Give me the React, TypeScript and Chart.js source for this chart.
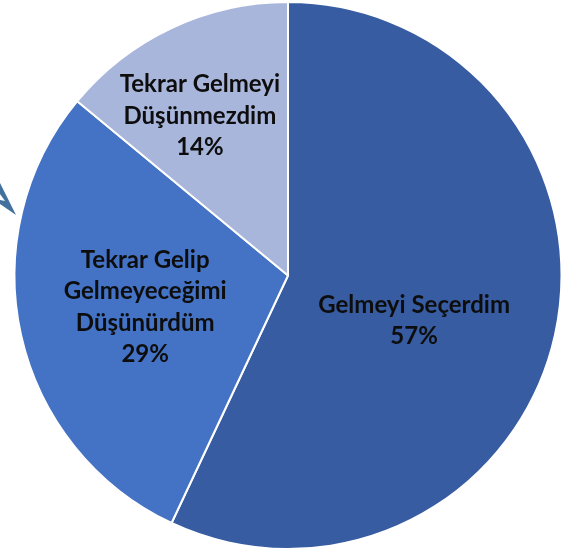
import React, { useEffect, useRef } from "react";
import { Chart, registerables } from "chart.js";

Chart.register(...registerables);

const categories: string[][] = [
  ["Gelmeyi Seçerdim"],
  ["Tekrar Gelip", "Gelmeyeceğimi", "Düşünürdüm"],
  ["Tekrar Gelmeyi", "Düşünmezdim"],
];
const values: number[] = [57, 29, 14];
const percentLabels: string[] = ["57%", "29%", "14%"];
const colors: string[] = ["#375ca1", "#4472c4", "#a9b6dc"];

// label placement: radial fraction and angular offset (radians) per slice
const labelRadius = [0.49, 0.535, 0.666];
const labelAngleOffset = [0.125, 0.0, -0.065];

const labelPlugin = {
  id: "sliceLabels",
  afterDatasetsDraw(chart: any) {
    const ctx = chart.ctx;
    const meta = chart.getDatasetMeta(0);
    ctx.save();
    ctx.font = "bold 24px Lato";
    ctx.fillStyle = "#0d0d0d";
    ctx.textAlign = "center";
    ctx.textBaseline = "middle";
    meta.data.forEach((arc: any, i: number) => {
      const p = arc.getProps(["x", "y", "startAngle", "endAngle", "outerRadius"], true);
      const mid = (p.startAngle + p.endAngle) / 2 + labelAngleOffset[i];
      const r = p.outerRadius * labelRadius[i];
      const cx = p.x + Math.cos(mid) * r;
      const cy = p.y + Math.sin(mid) * r;
      const lines = [...categories[i], percentLabels[i]];
      const lh = 31.5;
      const top = cy - ((lines.length - 1) * lh) / 2;
      lines.forEach((t, k) => ctx.fillText(t, cx, top + k * lh));
    });
    ctx.restore();
  },
};

const arrowPlugin = {
  id: "arrowDecor",
  beforeDraw(chart: any) {
    const ctx = chart.ctx;
    ctx.save();
    ctx.fillStyle = "#41719c";
    ctx.beginPath();
    ctx.moveTo(0, 183);
    ctx.lineTo(16, 215);
    ctx.lineTo(0, 204);
    ctx.closePath();
    ctx.fill();
    ctx.fillStyle = "#ffffff";
    ctx.beginPath();
    ctx.moveTo(0, 194);
    ctx.lineTo(5, 201);
    ctx.lineTo(0, 200);
    ctx.closePath();
    ctx.fill();
    ctx.restore();
  },
};

export default function App() {
  const ref = useRef<HTMLCanvasElement | null>(null);
  useEffect(() => {
    if (!ref.current) return;
    const chart = new Chart(ref.current, {
      type: "pie",
      data: {
        labels: categories.map((c) => c.join(" ")),
        datasets: [
          {
            data: values,
            backgroundColor: colors,
            borderColor: "#ffffff",
            borderWidth: 2,
          },
        ],
      },
      options: {
        responsive: false,
        animation: false,
        layout: { padding: { left: 9, right: 0, top: 1, bottom: 3 } },
        plugins: {
          legend: { display: false },
          tooltip: { enabled: false },
        },
      },
      plugins: [labelPlugin, arrowPlugin],
    });
    return () => chart.destroy();
  }, []);
  return (
    <div style={{ position: "fixed", left: 0, top: 0, width: 567, height: 553, background: "#fff" }}>
      <canvas ref={ref} width={567} height={553} />
    </div>
  );
}
